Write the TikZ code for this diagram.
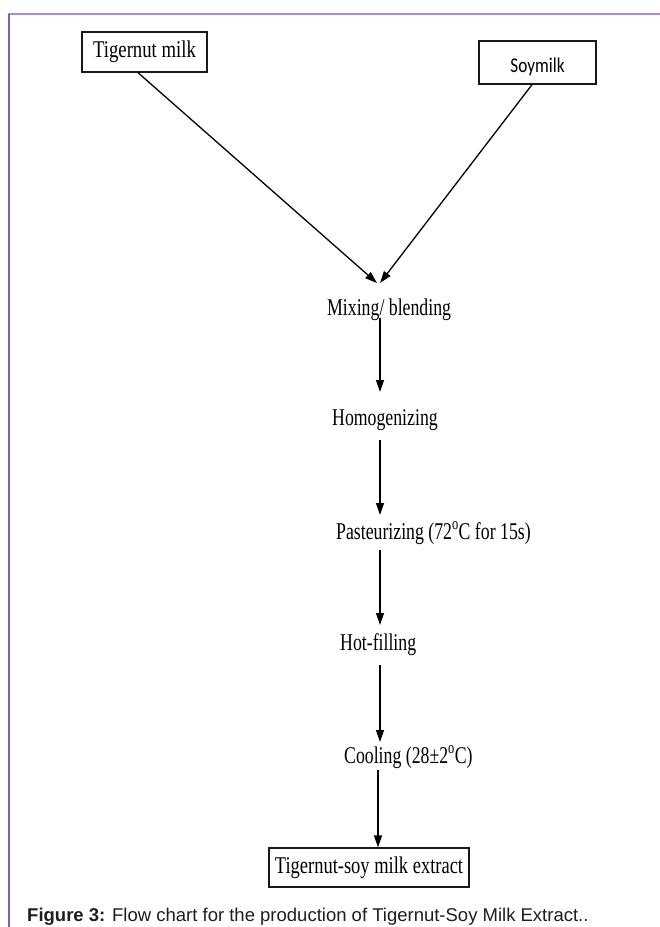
\documentclass[tikz,border=0pt]{standalone}
\usepackage{fontspec}
\setmainfont{Liberation Serif}
\newfontfamily\capfont{Liberation Sans}
\newfontfamily\soyfont{Carlito}
\usetikzlibrary{arrows.meta,calc}
\definecolor{frametop}{HTML}{A88BD0}
\definecolor{frameleft}{HTML}{7E5CC0}
\definecolor{captxt}{HTML}{1E1E1E}
\newcommand{\cond}[1]{\scalebox{0.74}[1]{#1}}
\tikzset{
  steptext/.style={inner sep=0pt, anchor=base west, font=\fontsize{24}{28}\selectfont},
  boxnode/.style={draw=black!90, line width=1.3pt, inner sep=0pt},
  arr/.style={line width=1.3pt, -{Triangle[length=12pt,width=8pt]}}
}
\begin{document}
\begin{tikzpicture}[x=1pt,y=-1pt]
\useasboundingbox (0,0) rectangle (660,927);
\fill[white] (0,0) rectangle (660,927);
% frame
\draw[frametop, line width=1.6pt] (8,14) -- (660,14);
\draw[frameleft, line width=1.4pt] (9,14) -- (9,927);
% input boxes
\node[boxnode, minimum width=125pt, minimum height=40pt, font=\fontsize{24}{28}\selectfont]
  (tm) at (144.5,52) {\scalebox{0.78}[1]{Tigernut milk}\hspace{11pt}};
\node[boxnode, minimum width=117pt, minimum height=43pt, font=\soyfont\fontsize{21}{25}\selectfont]
  (soy) at (537.5,62.5) {\raisebox{-5pt}[14pt][4pt]{\scalebox{0.82}[1]{Soymilk}}\hspace{16pt}};
% steps
\node[steptext] (mix)  at (327,315) {\cond{Mixing/ blending}};
\node[steptext] (homo) at (332,425) {\cond{Homogenizing}};
\node[steptext] (past) at (336,539) {\cond{Pasteurizing (72\textsuperscript{o}C for 15s)}};
\node[steptext] (hot)  at (340,650) {\cond{Hot-filling}};
\node[steptext] (cool) at (344,763) {\cond{Cooling (28±2\textsuperscript{o}C)}};
\node[boxnode, minimum width=200pt, minimum height=39pt, font=\fontsize{24}{28}\selectfont]
  (fin) at (369,867.5) {\scalebox{0.77}[1]{Tigernut-soy milk extract}};
% connectors
\coordinate (ax) at (380,0);
\coordinate (bx) at (378,0);
\draw[arr] ($(tm.south)+(-6.5,0)$) -- ($(mix.base west)+(50,-32)$);
\draw[arr] ($(soy.south)+(-5.5,0)$) -- ($(mix.base west)+(53,-32)$);
\draw[arr] ($(mix.base -| ax)+(0,3)$)   -- ($(homo.base -| ax)+(0,-33)$);
\draw[arr] ($(homo.base -| ax)+(0,15)$) -- ($(past.base -| ax)+(0,-24)$);
\draw[arr] ($(past.base -| ax)+(0,11)$) -- ($(hot.base -| ax)+(0,-25)$);
\draw[arr] ($(hot.base -| ax)+(0,15)$)  -- ($(cool.base -| ax)+(0,-21)$);
\draw[arr] ($(cool.base -| bx)+(0,7)$)  -- (fin.north -| bx);
% caption
\node[inner sep=0pt, anchor=base west, text=captxt, font=\capfont\fontsize{18.5}{22}\selectfont]
  (cap) at (27,921) {\textbf{Figure 3:} Flow chart for the production of Tigernut-Soy Milk Extract..};
\end{tikzpicture}
\end{document}
